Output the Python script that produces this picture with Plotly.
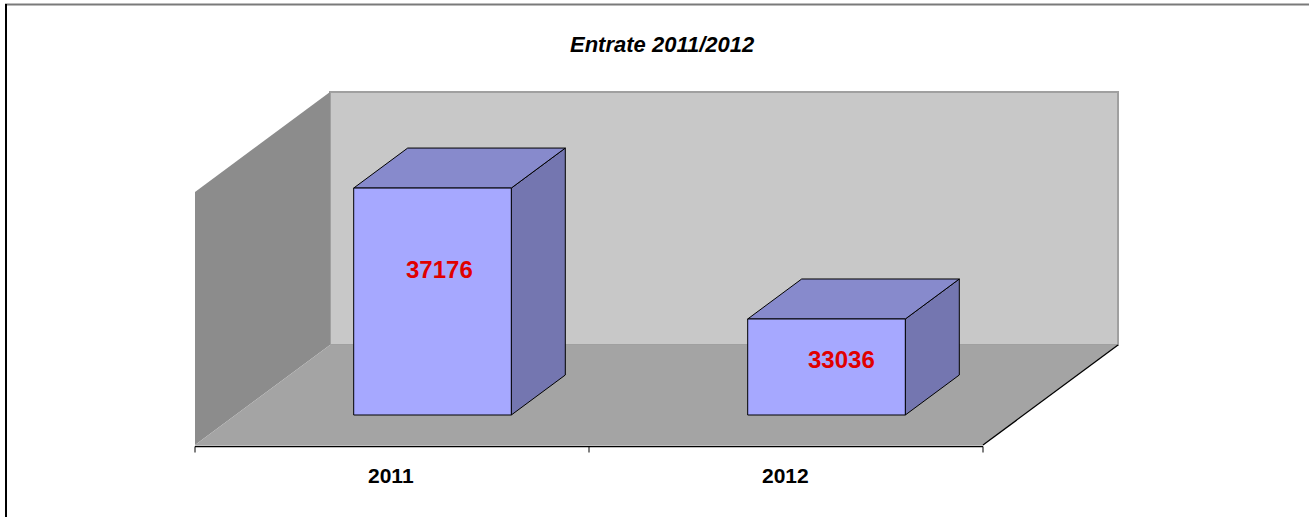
import plotly.graph_objects as go

# ---- data ----
categories = ["2011", "2012"]
values = [37176, 33036]
title_text = "Entrate 2011/2012"
axis_min = 30000
axis_max = 38000

# ---- geometry / style (pixels -> data units) ----
W, H = 1309, 517
px_per_cat = 394.0
x0_px = 195.0            # front-left corner of floor
floor_front_px = 445.0   # pixel row of axis_min at front plane
wall_px = 253.0          # wall height in px
k = wall_px / (axis_max - axis_min)   # px per value unit
Dx = 135.0 / px_per_cat  # depth offset in category units
Dy = 100.0 / k           # depth offset in value units

def P(x, v, d):
    return x + d * Dx, v + d * Dy

def poly(pts, color, line_color=None, lw=1):
    xs = [p[0] for p in pts] + [pts[0][0]]
    ys = [p[1] for p in pts] + [pts[0][1]]
    return go.Scatter(
        x=xs, y=ys, mode="lines", fill="toself", fillcolor=color,
        line=dict(color=line_color if line_color else color, width=lw if line_color else 0),
        hoverinfo="skip", showlegend=False)

def seg(a, b, color="black", w=1):
    return go.Scatter(x=[a[0], b[0]], y=[a[1], b[1]], mode="lines",
                      line=dict(color=color, width=w), hoverinfo="skip", showlegend=False)

n = len(categories)
vmin, vmax = axis_min, axis_max
traces = []

# back wall
traces.append(poly([P(0, vmin, 1), P(n, vmin, 1), P(n, vmax, 1), P(0, vmax, 1)],
                   "#C8C8C8", "#A0A0A0", 2))
# left wall
traces.append(poly([P(0, vmin, 0), P(0, vmax, 0), P(0, vmax, 1), P(0, vmin, 1)], "#8C8C8C"))
# floor
traces.append(poly([P(0, vmin, 0), P(n, vmin, 0), P(n, vmin, 1), P(0, vmin, 1)], "#A4A4A4"))
# floor right edge
traces.append(seg(P(n, vmin, 0), P(n, vmin, 1), "black", 1.3))
# axis line
ax_v = vmin - 1.5 / k
traces.append(seg((0, ax_v), (n, ax_v), "black", 1.6))
# ticks
for i in range(n + 1):
    traces.append(seg((i, ax_v), (i, ax_v - 6 / k), "black", 1))

# bars
bar_w = 0.4
d0, d1 = 0.3, 0.7
for i, v in enumerate(values):
    xl = i + 0.5 - bar_w / 2
    xr = i + 0.5 + bar_w / 2
    front = [P(xl, vmin, d0), P(xr, vmin, d0), P(xr, v, d0), P(xl, v, d0)]
    top = [P(xl, v, d0), P(xr, v, d0), P(xr, v, d1), P(xl, v, d1)]
    side = [P(xr, vmin, d0), P(xr, vmin, d1), P(xr, v, d1), P(xr, v, d0)]
    traces.append(poly(side, "#7476B0", "black", 1))
    traces.append(poly(top, "#878ACC", "black", 1))
    traces.append(poly(front, "#A6A8FF", "black", 1))

fig = go.Figure(traces)

annotations = []
# data labels (offsets are style)
label_shift = [(6.5, 32.5), (14.5, 7.0)]
for i, v in enumerate(values):
    cx, cy = P(i + 0.5, (vmin + v) / 2, d0)
    annotations.append(dict(x=cx, y=cy, text="<b>%d</b>" % v, showarrow=False,
                            xshift=label_shift[i][0], yshift=label_shift[i][1],
                            font=dict(family="Liberation Sans, Arial", size=24, color="#E00000"),
                            xanchor="center", yanchor="middle"))
# category labels
for i, c in enumerate(categories):
    annotations.append(dict(x=i + 0.5, y=vmin - 30.5 / k, text="<b>%s</b>" % c, showarrow=False,
                            xshift=-1,
                            font=dict(family="Liberation Sans, Arial", size=21, color="black"),
                            xanchor="center", yanchor="middle"))
# title
annotations.append(dict(x=662 / W, y=1 - 44 / H, xref="paper", yref="paper",
                        text="<b><i>%s</i></b>" % title_text, showarrow=False,
                        font=dict(family="Liberation Sans, Arial", size=22, color="black"),
                        xanchor="center", yanchor="middle"))

shapes = [
    dict(type="line", xref="paper", yref="paper", x0=5 / W, x1=1, y0=1 - 4.5 / H, y1=1 - 4.5 / H,
         line=dict(color="#7A7A7A", width=2)),
    dict(type="line", xref="paper", yref="paper", x0=6 / W, x1=6 / W, y0=0, y1=1 - 4 / H,
         line=dict(color="black", width=2)),
]

fig.update_layout(
    width=W, height=H,
    margin=dict(l=0, r=0, t=0, b=0),
    paper_bgcolor="white", plot_bgcolor="white",
    xaxis=dict(range=[-x0_px / px_per_cat, (W - x0_px) / px_per_cat], visible=False, fixedrange=True),
    yaxis=dict(range=[vmin - (H - floor_front_px) / k, vmin + floor_front_px / k], visible=False, fixedrange=True),
    annotations=annotations, shapes=shapes, showlegend=False,
)
fig.write_html("out.html", config={"displayModeBar": False},
               post_script="document.body.style.margin='0';document.body.style.overflow='hidden';")
